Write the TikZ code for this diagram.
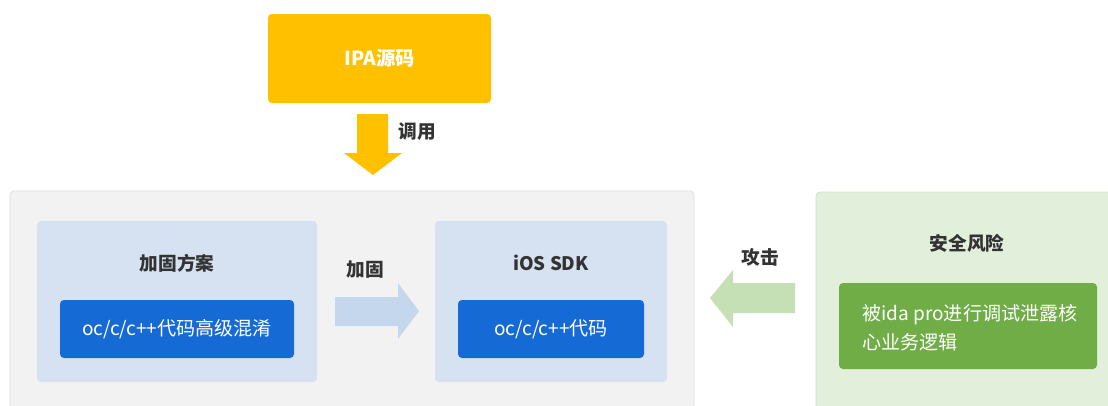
\documentclass[tikz,border=0pt]{standalone}
\usepackage{fontspec}
\setmainfont{Noto Sans CJK SC}
\definecolor{ipay}{HTML}{FFC000}
\definecolor{grayp}{HTML}{F2F2F2}
\definecolor{grayb}{HTML}{DCDCDC}
\definecolor{lblue}{HTML}{D6E2F1}
\definecolor{dblue}{HTML}{166AD5}
\definecolor{ablue}{HTML}{C5D7EC}
\definecolor{lgreen}{HTML}{E2EFDA}
\definecolor{lgreenb}{HTML}{CFE3C3}
\definecolor{dgreen}{HTML}{70AD47}
\definecolor{agreen}{HTML}{C5E0B4}
\definecolor{txt}{HTML}{333333}
\begin{document}
\begin{tikzpicture}[x=0.75pt,y=-0.75pt,
  base/.style={font=\fontsize{14.3pt}{21.75pt}\selectfont},
  boxbase/.style={base, rectangle, rounded corners=3pt, inner sep=0pt},
  ttl/.style={font=\fontsize{14pt}{21.75pt}\selectfont\bfseries, text=txt, inner sep=0pt},
  wtxt/.style={base, text=white, inner sep=0pt},
  panel/.style={boxbase, fill=lblue},
  inner/.style={boxbase, fill=dblue, text=white}
]
\useasboundingbox (0,0) rectangle (1108,405);
\fill[white] (0,0) rectangle (1108,405);

% top source box
\node[boxbase, fill=ipay, minimum width=167.25pt, minimum height=66.75pt,
      text=white, font=\fontsize{14.5pt}{17pt}\selectfont\bfseries] (ipa) at (379.5,58.5) {IPA源码};

% down arrow
\fill[ipay] (357,114) -- (388,114) -- (388,153) -- (402,153) -- (373,175) -- (344,153) -- (357,153) -- cycle;
\node[ttl] (call) at (417,132) {调用};

% grey panel
\node[boxbase, fill=grayp, draw=grayb, line width=0.6pt, minimum width=513pt, minimum height=171.75pt] (gray) at (352,305.5) {};

% left panel
\node[panel, minimum width=210pt, minimum height=120.75pt] (plan) at (177,301.5) {};
\node[ttl] (plant) at (177,263) {加固方案};
\node[inner, minimum width=175.5pt, minimum height=43.5pt] (obf) at (177,329) {oc/c/c++代码高级混淆};

% middle arrow
\fill[ablue] (335,297) -- (398,297) -- (398,283) -- (419,311) -- (398,339) -- (398,326) -- (335,326) -- cycle;
\node[ttl] (harden) at (365,270) {加固};

% right panel
\node[panel, minimum width=174pt, minimum height=120.75pt] (sdk) at (551,301.5) {};
\node[ttl] (sdkt) at (551,263) {iOS SDK};
\node[inner, minimum width=139.5pt, minimum height=43.5pt] (code) at (551,329) {oc/c/c++代码};

% green panel
\node[boxbase, fill=lgreen, draw=lgreenb, line width=0.6pt, minimum width=228pt, minimum height=171pt] (risk) at (968,306) {};
\node[ttl] (riskt) at (967,243) {安全风险};
\node[boxbase, fill=dgreen, minimum width=193.5pt, minimum height=64.5pt] (riskb) at (968,326) {};
\node[wtxt, anchor=west, align=left] (riskx) at (862,327.5) {被ida pro进行调试泄露核\\心业务逻辑};

% left arrow
\fill[agreen] (795,283) -- (733,283) -- (733,270) -- (710,298) -- (733,327) -- (733,313) -- (795,313) -- cycle;
\node[ttl] (attack) at (760,257) {攻击};
\end{tikzpicture}
\end{document}
